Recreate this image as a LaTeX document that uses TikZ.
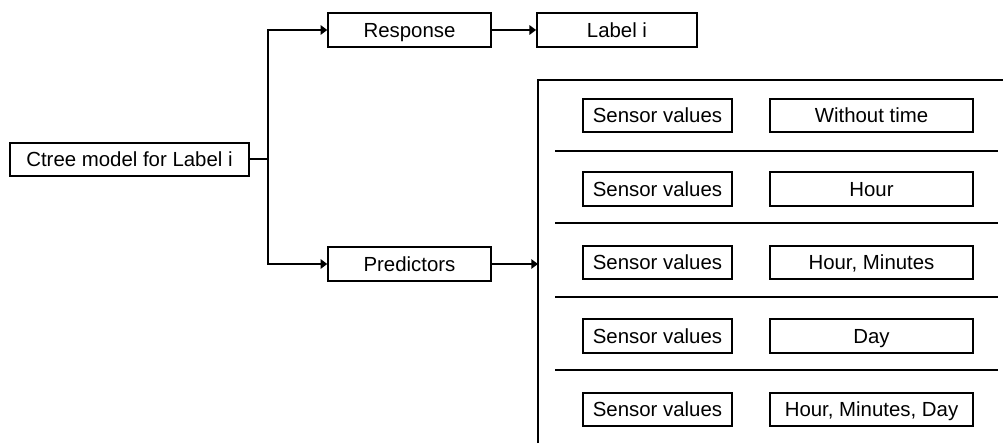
\documentclass[tikz,border=0pt]{standalone}
\usepackage{fontspec}
\setmainfont{Liberation Sans}
\usepackage{tikz}
\usetikzlibrary{calc,arrows.meta}

\begin{document}
\begin{tikzpicture}[x=0.75pt,y=0.75pt,line width=1.5pt,
  box/.style={draw,line width=1.3pt,inner sep=0pt,minimum height=25pt,text height=12.4pt,text depth=1.8pt,font=\fontsize{15.3}{18}\selectfont},
  arr/.style={-{Triangle[length=5pt,width=7pt]}}]
\useasboundingbox (0,0) rectangle (1003,443);
\node[box,minimum width=179pt] (C) at (129.5,283.5) {Ctree model for Label i};
\node[box,minimum width=122pt] (R) at (409.5,413) {Response};
\node[box,minimum width=120pt] (L) at (617,413) {Label i};
\node[box,minimum width=122pt] (P) at (409.5,179) {Predictors};
\coordinate (T) at (267.5,283.5);
\coordinate (B) at (538,179);
\draw (C.east) -- (T);
\draw[arr] (T) |- (R.west);
\draw[arr] (T) |- (P.west);
\draw[arr] (R) -- (L);
\draw[arr] (P) -- (B);
% panel with the five predictor sets
\draw (538,0) -- (538,363) -- (1003,363);
\foreach \y in {292,220,146,73}
  \draw (555,\y) -- (998,\y);
\foreach \t [count=\i] in {Without time,Hour,{Hour, Minutes},Day,{Hour, Minutes, Day}}{
  \node[box,minimum width=112pt] (S\i) at (657.5,{401-73.5*\i}) {Sensor values};
  \node[box,minimum width=152pt] (V\i) at (871.5,{401-73.5*\i}) {\t};
}
\end{tikzpicture}
\end{document}
